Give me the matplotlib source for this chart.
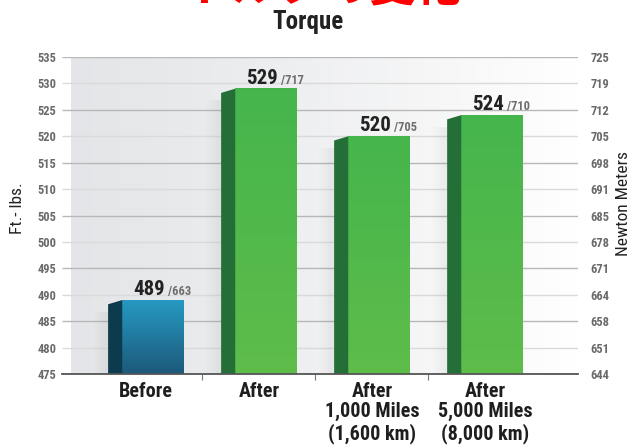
import numpy as np
import matplotlib
matplotlib.use('Agg')
import matplotlib.pyplot as plt
from matplotlib import font_manager as fm
from matplotlib.patches import Polygon, Rectangle

# data
categories = ['Before', 'After', 'After\n1,000 Miles\n(1,600 km)', 'After\n5,000 Miles\n(8,000 km)']
torque_ftlb = [489, 529, 520, 524]
torque_nm = [663, 717, 705, 710]
ft_ticks = [475, 480, 485, 490, 495, 500, 505, 510, 515, 520, 525, 530, 535]
nm_labels = ['644', '651', '658', '664', '671', '678', '685', '691', '698', '705', '712', '719', '725']

# pick a condensed face if one is installed
installed = set(f.name for f in fm.fontManager.ttflist)
cond_name = 'DejaVu Sans'
for name in ['Roboto Condensed', 'Archivo Narrow', 'Liberation Sans Narrow', 'PT Sans Narrow',
             'Open Sans Condensed', 'Fira Sans Condensed', 'IBM Plex Sans Condensed']:
    if name in installed:
        cond_name = name
        break
cond = [cond_name, 'DejaVu Sans']
plt.rcParams['font.family'] = cond

fig = plt.figure(figsize=(6.35, 4.48), dpi=100)
ax = fig.add_axes([62/635, 1-374/448, 516/635, 317/448])
ymin, ymax = 475, 535
xl, xr = -0.743, 3.823
ax.set_xlim(xl, xr)
ax.set_ylim(ymin, ymax)

# background panel, grey on the left fading to white
grad = np.linspace(0, 1, 256)[None, :]
bg = np.zeros((1, 256, 3))
for k, c0 in enumerate((0.895, 0.90, 0.91)):
    bg[..., k] = c0 + (1.0 - c0) * grad ** 1.2
ax.imshow(bg, extent=[xl + 9/113, xr, ymin, ymax], aspect='auto', zorder=0)

# grid lines
for i, t in enumerate(ft_ticks):
    col = '#b8b8b8' if i % 2 == 0 else '#dadada'
    ax.hlines(t, xl, xr, color=col, lw=1.0, zorder=1)

front_l, front_r, side_l = -0.21, 0.33, -0.335
slope = 0.8
for i, v in enumerate(torque_ftlb):
    is_before = i == 0
    # soft shadow left of the bar
    for s in range(12):
        ax.add_patch(Rectangle((i + side_l - 0.011 * (s + 1), ymin), 0.011, v - ymin - 2.2,
                               color='k', alpha=0.05 * (1 - s / 12), lw=0, zorder=2))
    # front face with vertical gradient
    if is_before:
        top_c, bot_c, side_c = np.array([0.15, 0.60, 0.76]), np.array([0.11, 0.35, 0.48]), '#0c3b4e'
    else:
        top_c, bot_c, side_c = np.array([0.27, 0.71, 0.30]), np.array([0.37, 0.74, 0.29]), '#246f37'
    g = np.linspace(0, 1, 100)[:, None]
    img = (top_c * (1 - g) + bot_c * g)[:, None, :]
    ax.imshow(img, extent=[i + front_l, i + front_r, ymin, v], aspect='auto', zorder=3)
    # side face
    ax.add_patch(Polygon([(i + front_l, ymin), (i + front_l, v), (i + side_l, v - slope), (i + side_l, ymin)],
                         closed=True, color=side_c, lw=0, zorder=3))
    # value labels
    xc = i + (front_l + front_r) / 2 + 0.11
    ax.text(xc, v + 0.9, str(v), ha='right', va='baseline', fontsize=15, fontweight='bold',
            color='#222222', zorder=5)
    ax.text(xc + 0.025, v + 0.9, '/' + str(torque_nm[i]), ha='left', va='baseline', fontsize=9,
            fontweight='bold', color='#6e6e6e', zorder=5)

ax.set_xlim(xl, xr)
ax.set_ylim(ymin, ymax)

for sp in ['top', 'right', 'left']:
    ax.spines[sp].set_visible(False)
ax.spines['bottom'].set_color('#555555')
ax.spines['bottom'].set_linewidth(1.3)
ax.spines['bottom'].set_zorder(6)

ax.set_xticks([0.5, 1.5, 2.5])
ax.set_xticklabels([])
ax.tick_params(axis='x', length=4, color='#777777', direction='out')
ax.set_yticks(ft_ticks)
ax.set_yticklabels([str(t) for t in ft_ticks])
ax.tick_params(axis='y', length=0, pad=4, labelsize=9, labelcolor='#6a6a6a')
for lab in ax.get_yticklabels():
    lab.set_fontweight('bold')

for i, c in enumerate(categories):
    ax.text(i, ymin - 1.45, c, ha='center', va='top', fontsize=14.5, fontweight='bold',
            color='#1e1e1e', linespacing=1.1)

ax2 = ax.twinx()
ax2.set_ylim(ymin, ymax)
ax2.set_yticks(ft_ticks)
ax2.set_yticklabels(nm_labels)
ax2.tick_params(axis='y', length=0, pad=9, labelsize=9, labelcolor='#6a6a6a')
for lab in ax2.get_yticklabels():
    lab.set_fontweight('bold')
for sp in ax2.spines.values():
    sp.set_visible(False)

fig.text(17/635, 1-208/448, 'Ft.- lbs.', rotation=90, ha='center', va='center', fontsize=12.5, color='#222222')
fig.text(624/635, 1-203/448, 'Newton Meters', rotation=90, ha='center', va='center', fontsize=12.5, color='#222222')

fig.text(308/635, 1-22/448, 'Torque', ha='center', va='center', fontsize=18, fontweight='bold', color='#222222')
# the red heading is cropped at the top edge in the reference
fig.text(324/635, 1-1/448, 'トルクの変化', ha='center', va='baseline', fontsize=33, fontweight='bold',
         color='#ff0000', family=['Noto Sans CJK JP', 'DejaVu Sans'])

fig.savefig('out.png', dpi=100)
